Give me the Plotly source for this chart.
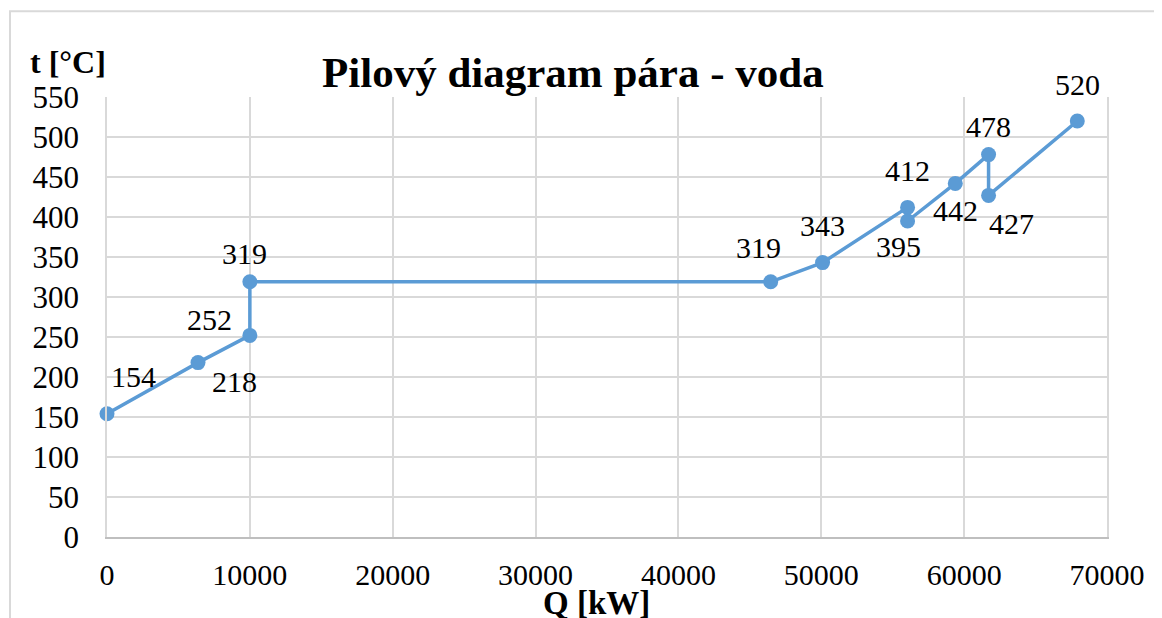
import plotly.graph_objects as go

# Data
Q = [0, 6370, 10000, 10000, 46460, 50090, 56040, 56040, 59380, 61710, 61710, 67920]
t = [154, 218, 252, 319, 319, 343, 412, 395, 442, 478, 427, 520]
labels = [str(v) for v in t]
x_ticks = [0, 10000, 20000, 30000, 40000, 50000, 60000, 70000]
y_ticks = list(range(0, 551, 50))

title = "Pilový diagram pára - voda"
x_title = "Q [kW]"
y_title = "t [°C]"

# Label offsets (pixels): (dx, dy up)
offsets = [(26, 37), (36, -19), (-40, 16), (-5, 28), (-12, 34), (0, 37),
           (0, 37), (-9, -25), (0, -27), (0, 28), (23, -28), (0, 37)]

FONT = "Times New Roman, Liberation Serif, Tinos, serif"
color = "#5B9BD5"

fig = go.Figure()
fig.add_trace(go.Scatter(
    x=Q, y=t, mode="lines+markers",
    line=dict(color=color, width=3.5),
    marker=dict(color=color, size=15),
    cliponaxis=False,
    hoverinfo="x+y", showlegend=False,
))

for xi, yi, lab, (dx, dy) in zip(Q, t, labels, offsets):
    fig.add_annotation(x=xi, y=yi, text=lab, showarrow=False,
                       xshift=dx, yshift=dy,
                       font=dict(family=FONT, size=30, color="#000000"))

fig.add_annotation(xref="paper", yref="paper", x=0.466, y=1.0, yshift=25,
                   text="<b>" + title + "</b>", showarrow=False,
                   xanchor="center", yanchor="middle",
                   font=dict(family=FONT, size=43, color="#000000"))
fig.add_annotation(xref="paper", yref="paper", x=-0.039, y=1.0, yshift=35,
                   text="<b>" + y_title + "</b>", showarrow=False,
                   xanchor="center", yanchor="middle",
                   font=dict(family=FONT, size=32, color="#000000"))
fig.add_annotation(xref="paper", yref="paper", x=0.489, y=0.0, yshift=-66,
                   text="<b>" + x_title + "</b>", showarrow=False,
                   xanchor="center", yanchor="middle",
                   font=dict(family=FONT, size=33, color="#000000"))

# outer chart border
fig.add_shape(type="rect", xref="paper", yref="paper",
              x0=-0.097, x1=1.2, y0=-0.5, y1=1.195,
              line=dict(color="#D9D9D9", width=2), layer="below")

fig.update_layout(
    width=1154, height=610,
    margin=dict(l=99, r=55, t=89, b=81),
    paper_bgcolor="white", plot_bgcolor="white",
    font=dict(family=FONT, size=30, color="#000000"),
    xaxis=dict(range=[0, 70000], tickvals=x_ticks, ticktext=[str(v) for v in x_ticks],
               showgrid=True, gridcolor="#D9D9D9", gridwidth=1.5,
               showline=True, linecolor="#BFBFBF", linewidth=1.5,
               zeroline=False, ticks="", ticklabelstandoff=10, automargin=False,
               tickfont=dict(family=FONT, size=30, color="#000000")),
    yaxis=dict(range=[0, 550], tickvals=y_ticks, ticktext=[str(v) for v in y_ticks],
               showgrid=True, gridcolor="#D9D9D9", gridwidth=1.5,
               showline=True, linecolor="#D9D9D9", linewidth=1.5, mirror=True,
               zeroline=False, ticks="", ticklabelstandoff=20, automargin=False,
               tickfont=dict(family=FONT, size=31, color="#000000")),
)

fig.write_html("out.html")
